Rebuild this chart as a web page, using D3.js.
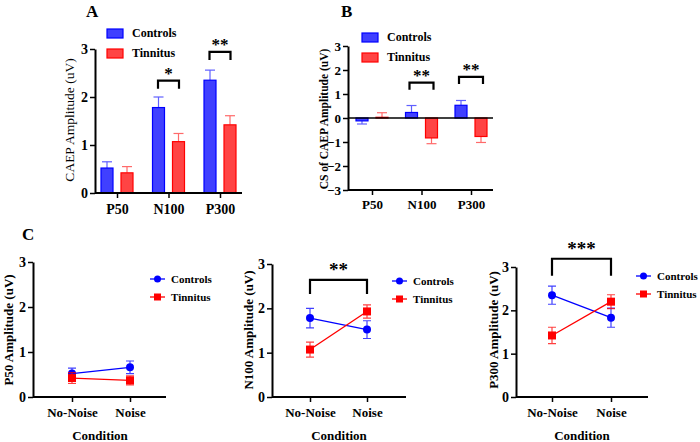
<!DOCTYPE html>
<html><head><meta charset="utf-8">
<script src="https://cdn.jsdelivr.net/npm/d3@7"></script>
<style>body{margin:0;background:#fff}</style>
</head><body><svg id="c" width="700" height="442" font-family="Liberation Serif"></svg>
<script>
const categories = ["P50","N100","P300"];
const aControls = [0.52,1.78,2.35];
const aControlsErr = [0.13,0.22,0.21];
const aTinnitus = [0.42,1.07,1.42];
const aTinnitusErr = [0.13,0.17,0.19];
const bControls = [-0.12,0.23,0.53];
const bControlsErr = [0.13,0.29,0.20];
const bTinnitus = [0.03,-0.83,-0.77];
const bTinnitusErr = [0.19,0.24,0.25];
const conditions = ["No-Noise","Noise"];
const p50Controls = [0.52,0.66], p50ControlsErr = [0.12,0.14];
const p50Tinnitus = [0.42,0.37], p50TinnitusErr = [0.12,0.10];
const n100Controls = [1.78,1.52], n100ControlsErr = [0.22,0.20];
const n100Tinnitus = [1.07,1.93], n100TinnitusErr = [0.17,0.15];
const p300Controls = [2.35,1.83], p300ControlsErr = [0.21,0.22];
const p300Tinnitus = [1.42,2.20], p300TinnitusErr = [0.19,0.16];
const ticksA = [0,1,2,3];
const ticksB = [-3,-2,-1,0,1,2,3];
const seriesNames = ["Controls","Tinnitus"];
const sigA = [{cat:"N100",y:2.34,label:"*"},{cat:"P300",y:2.94,label:"**"}];
const sigB = [{cat:"N100",y:1.47,label:"**"},{cat:"P300",y:1.71,label:"**"}];

const FONT = "Liberation Serif";
const BLUE="#0000ff", RED="#ff0000";
const BFILL="#4040ff", RFILL="#ff4444";
const BERR="#6060ff", RERR="#ff6a6a";
const svg = d3.select("#c");

function txt(g,x,y,s,fs,bold,anchor){
  return g.append("text").attr("x",x).attr("y",y).attr("font-family",FONT).attr("font-size",fs)
    .attr("font-weight",bold?"bold":"normal").attr("text-anchor",anchor||"start").attr("fill","#000").text(s);
}
function yAxis(g, y, x0, ticks, fs){
  const a = g.append("g").attr("transform",`translate(${x0},0)`)
    .call(d3.axisLeft(y).tickValues(ticks).tickSize(5).tickSizeOuter(0).tickFormat(d3.format("d")));
  a.attr("font-family",FONT);
  a.select(".domain").attr("stroke","#000").attr("stroke-width",2);
  a.selectAll(".tick line").attr("stroke","#000").attr("stroke-width",1.5);
  a.selectAll(".tick text").attr("font-family",FONT).attr("font-size",fs).attr("font-weight","bold").attr("fill","#000").attr("x",-7);
}
function xAxis(g, x, y0, xa, xb, fs, dy){
  const a = g.append("g").attr("transform",`translate(0,${y0})`)
    .call(d3.axisBottom(x).tickSize(5).tickSizeOuter(0));
  a.attr("font-family",FONT);
  a.select(".domain").remove();
  a.append("line").attr("x1",xa).attr("x2",xb).attr("stroke","#000").attr("stroke-width",2);
  a.selectAll(".tick line").attr("stroke","#000").attr("stroke-width",1.5);
  a.selectAll(".tick text").attr("font-family",FONT).attr("font-size",fs).attr("font-weight","bold").attr("fill","#000").attr("y",dy);
}
function bracket(g,x1,x2,yTop,leg,label,fs,starDy){
  g.append("path").attr("d",`M${x1},${yTop+leg}V${yTop}H${x2}V${yTop+leg}`)
    .attr("fill","none").attr("stroke","#000").attr("stroke-width",2.2);
  txt(g,(x1+x2)/2,yTop+starDy,label,fs,true,"middle");
}
function barLegend(g,x,y,fs){
  [[BFILL,BLUE],[RFILL,RED]].forEach((c,i)=>{
    g.append("rect").attr("x",x).attr("y",y+i*20-4).attr("width",16).attr("height",9)
      .attr("fill",c[0]).attr("stroke",c[1]).attr("stroke-width",1.2);
    txt(g,x+25,y+i*20+4,seriesNames[i],fs,true);
  });
}

// ---------- Panel A ----------
{
  const g = svg.append("g");
  const x = d3.scalePoint().domain(categories).range([117,220]);
  const y = d3.scaleLinear().domain([0,3]).range([193,49]);
  const groups = [[aControls,aControlsErr,-16,BFILL,BLUE,BERR],[aTinnitus,aTinnitusErr,4,RFILL,RED,RERR]];
  groups.forEach(([vals,errs,off,fill,stroke,ec])=>{
    categories.forEach((c,i)=>{
      const cx = x(c)+off+6;
      g.append("line").attr("x1",cx).attr("x2",cx).attr("y1",y(vals[i])).attr("y2",y(vals[i]+errs[i])).attr("stroke",ec).attr("stroke-width",1.2);
      g.append("line").attr("x1",cx-5).attr("x2",cx+5).attr("y1",y(vals[i]+errs[i])).attr("y2",y(vals[i]+errs[i])).attr("stroke",ec).attr("stroke-width",1.2);
      g.append("rect").attr("x",x(c)+off).attr("y",y(vals[i])).attr("width",12).attr("height",y(0)-y(vals[i]))
        .attr("fill",fill).attr("stroke",stroke).attr("stroke-width",1.2);
    });
  });
  yAxis(g,y,95,ticksA,14);
  xAxis(g,x,193,95,242,14,11);
  g.append("text").attr("transform","translate(74,120) rotate(-90)").attr("text-anchor","middle")
    .attr("font-family",FONT).attr("font-size",13.5).text("CAEP Amplitude (uV)");
  txt(g,86,17,"A",17,true);
  barLegend(g,107,33,12);
  sigA.forEach(s=>bracket(g,x(s.cat)-10.5,x(s.cat)+10.5,y(s.y),8,s.label,17,-2));
}

// ---------- Panel B ----------
{
  const g = svg.append("g");
  const x = d3.scalePoint().domain(categories).range([372,471]);
  const y = d3.scaleLinear().domain([-3,3]).range([190,46]);
  const groups = [[bControls,bControlsErr,-16,BFILL,BLUE,BERR],[bTinnitus,bTinnitusErr,4,RFILL,RED,RERR]];
  groups.forEach(([vals,errs,off,fill,stroke,ec])=>{
    categories.forEach((c,i)=>{
      const cx = x(c)+off+6;
      const v = vals[i], e = v>=0? v+errs[i] : v-errs[i];
      g.append("line").attr("x1",cx).attr("x2",cx).attr("y1",y(v)).attr("y2",y(e)).attr("stroke",ec).attr("stroke-width",1.2);
      g.append("line").attr("x1",cx-5).attr("x2",cx+5).attr("y1",y(e)).attr("y2",y(e)).attr("stroke",ec).attr("stroke-width",1.2);
      g.append("rect").attr("x",x(c)+off).attr("y",Math.min(y(v),y(0))).attr("width",12).attr("height",Math.abs(y(0)-y(v)))
        .attr("fill",fill).attr("stroke",stroke).attr("stroke-width",1.2);
    });
  });
  yAxis(g,y,348,ticksB,13);
  g.append("line").attr("x1",348).attr("x2",493).attr("y1",y(0)).attr("y2",y(0)).attr("stroke","#000").attr("stroke-width",1.5);
  xAxis(g,x,190,348,493,13,10);
  g.append("text").attr("transform","translate(328,119) rotate(-90)").attr("text-anchor","middle")
    .attr("font-family",FONT).attr("font-size",11.5).attr("font-weight","bold").text("CS of CAEP Amplitude (uV)");
  txt(g,341,17,"B",17,true);
  barLegend(g,362,37,12);
  sigB.forEach(s=>bracket(g,x(s.cat)-12,x(s.cat)+12,y(s.y),7,s.label,17,-2));
}

// ---------- Panel C ----------
function linePanel(cfg){
  const g = svg.append("g");
  const x = d3.scalePoint().domain(conditions).range(cfg.xr);
  const y = d3.scaleLinear().domain([0,3]).range([397,cfg.y3]);
  const series = [[cfg.c,cfg.ce,BLUE,"circle"],[cfg.t,cfg.te,RED,"square"]];
  const line = d3.line().x((d,i)=>x(conditions[i])).y(d=>y(d));
  series.forEach(([vals,errs,col,shape])=>{
    g.append("path").datum(vals).attr("d",line).attr("fill","none").attr("stroke",col).attr("stroke-width",1.3);
    vals.forEach((v,i)=>{
      const cx = x(conditions[i]);
      g.append("path").attr("d",`M${cx},${y(v-errs[i])}V${y(v+errs[i])}M${cx-4},${y(v-errs[i])}H${cx+4}M${cx-4},${y(v+errs[i])}H${cx+4}`)
        .attr("stroke",col).attr("stroke-width",1.2).attr("fill","none").attr("opacity",0.75);
      if(shape==="circle") g.append("circle").attr("cx",cx).attr("cy",y(v)).attr("r",4).attr("fill",col);
      else g.append("rect").attr("x",cx-4).attr("y",y(v)-4).attr("width",8).attr("height",8).attr("fill",col);
    });
  });
  yAxis(g,y,cfg.x0,ticksA,14);
  xAxis(g,x,397,cfg.x0,cfg.x1,13,11);
  g.append("text").attr("transform",`translate(${cfg.labX},330) rotate(-90)`).attr("text-anchor","middle")
    .attr("font-family",FONT).attr("font-size",13).attr("font-weight","bold").text(cfg.label);
  txt(g,cfg.condX,440,"Condition",13,true,"middle");
  [[BLUE,"circle"],[RED,"square"]].forEach(([col,shape],i)=>{
    const ly = cfg.legY + i*18;
    g.append("line").attr("x1",cfg.legX).attr("x2",cfg.legX+15).attr("y1",ly).attr("y2",ly).attr("stroke",col).attr("stroke-width",1.3);
    if(shape==="circle") g.append("circle").attr("cx",cfg.legX+7.5).attr("cy",ly).attr("r",3.5).attr("fill",col);
    else g.append("rect").attr("x",cfg.legX+4).attr("y",ly-3.5).attr("width",7).attr("height",7).attr("fill",col);
    txt(g,cfg.legX+21,ly+4,seriesNames[i],11,true);
  });
  if(cfg.sig){
    bracket(g,x(conditions[0]),x(conditions[1]),y(cfg.sig.y),cfg.sig.leg,cfg.sig.label,19,-4);
  }
}
linePanel({xr:[72,130],x0:33,x1:166,y3:262,c:p50Controls,ce:p50ControlsErr,t:p50Tinnitus,te:p50TinnitusErr,
  label:"P50 Amplitude (uV)",labX:13,condX:100,legX:150,legY:279});
linePanel({xr:[310,367],x0:272,x1:406,y3:264,c:n100Controls,ce:n100ControlsErr,t:n100Tinnitus,te:n100TinnitusErr,
  label:"N100 Amplitude (uV)",labX:253,condX:339,legX:392,legY:281,sig:{y:2.64,leg:14,label:"**"}});
linePanel({xr:[552,611],x0:516,x1:648,y3:267,c:p300Controls,ce:p300ControlsErr,t:p300Tinnitus,te:p300TinnitusErr,
  label:"P300 Amplitude (uV)",labX:498,condX:582,legX:636,legY:276,sig:{y:3.19,leg:17,label:"***"}});
txt(svg,22,240,"C",17,true);
</script></body></html>
